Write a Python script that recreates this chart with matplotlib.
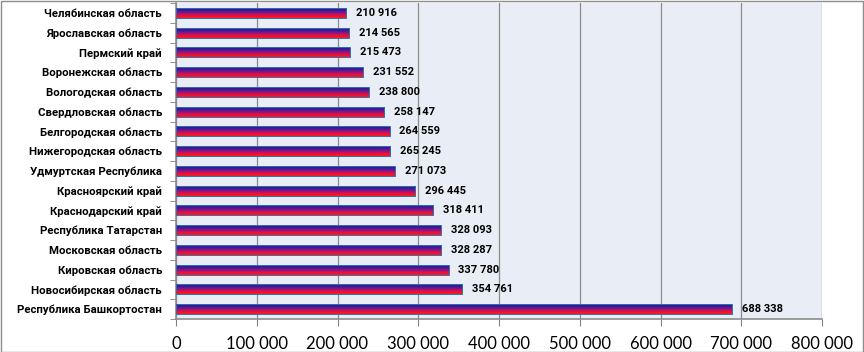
import matplotlib
matplotlib.use("Agg")
import matplotlib.pyplot as plt
import numpy as np
from matplotlib.colors import LinearSegmentedColormap
from matplotlib.patches import Rectangle

regions = ["Челябинская область", "Ярославская область", "Пермский край",
           "Воронежская область", "Вологодская область", "Свердловская область",
           "Белгородская область", "Нижегородская область", "Удмуртская Республика",
           "Красноярский край", "Краснодарский край", "Республика Татарстан",
           "Московская область", "Кировская область", "Новосибирская область",
           "Республика Башкортостан"]
values = [210916, 214565, 215473, 231552, 238800, 258147, 264559, 265245,
          271073, 296445, 318411, 328093, 328287, 337780, 354761, 688338]
xticks = [0, 100000, 200000, 300000, 400000, 500000, 600000, 700000, 800000]

def fmt(v):
    return f"{v:,}".replace(",", " ")

plt.rcParams['font.family'] = ['Roboto', 'DejaVu Sans']

fig = plt.figure(figsize=(8.64, 3.52), dpi=100)
ax = fig.add_axes([176/864, 1-319/352, (822-176)/864, (319-3)/352])
ax.set_facecolor('#E9EDF5')

n = len(regions)
ypos = np.arange(n)

cmap = LinearSegmentedColormap.from_list(
    'g', [(0.0, '#1C1C8A'), (0.3, '#4A1A9C'), (0.55, '#A01478'),
          (0.75, '#E8103C'), (1.0, '#FF1A1A')])
grad = np.linspace(0, 1, 64).reshape(-1, 1)
h = 0.5
for y, v in zip(ypos, values):
    im = ax.imshow(grad, cmap=cmap, aspect='auto', extent=[0, v, y + h/2, y - h/2],
                   origin='upper', zorder=3, interpolation='bilinear')
    rect = Rectangle((0, y - h/2), v, h, facecolor='none', edgecolor='#2F6FAF',
                     linewidth=0.7, zorder=4)
    ax.add_patch(rect)
    im.set_clip_path(rect)
    ax.text(v + 12000, y, fmt(v), va='center', ha='left', fontsize=8,
            fontweight='bold', color='black', zorder=5)

ax.set_xlim(0, 800000)
ax.set_ylim(n - 0.5, -0.5)

ax.set_xticks(xticks)
ax.set_xticklabels([fmt(t) for t in xticks], fontsize=12, family=['Lato', 'DejaVu Sans'])
ax.set_yticks(ypos)
ax.set_yticklabels(regions, fontsize=8.2, fontweight='bold')
ax.tick_params(axis='y', which='major', length=0, pad=10)
ax.set_yticks(np.arange(-0.5, n, 1), minor=True)
ax.tick_params(axis='y', which='minor', length=4, color='#808080', direction='out')
ax.tick_params(axis='x', length=5, color='#808080', direction='out', pad=7)
ax.grid(axis='x', color='#8C8C8C', linewidth=0.9, zorder=1)
ax.set_axisbelow(True)
for s in ['top', 'right']:
    ax.spines[s].set_visible(False)
for s in ['left', 'bottom']:
    ax.spines[s].set_color('#8C8C8C')
    ax.spines[s].set_linewidth(1.2)

fig.patches.append(Rectangle((0.5/864, 0.5/352), 1 - 1.5/864, 1 - 1.5/352,
                             transform=fig.transFigure, fill=False,
                             edgecolor='#8C8C8C', linewidth=1))
fig.savefig('out.png', dpi=100)
